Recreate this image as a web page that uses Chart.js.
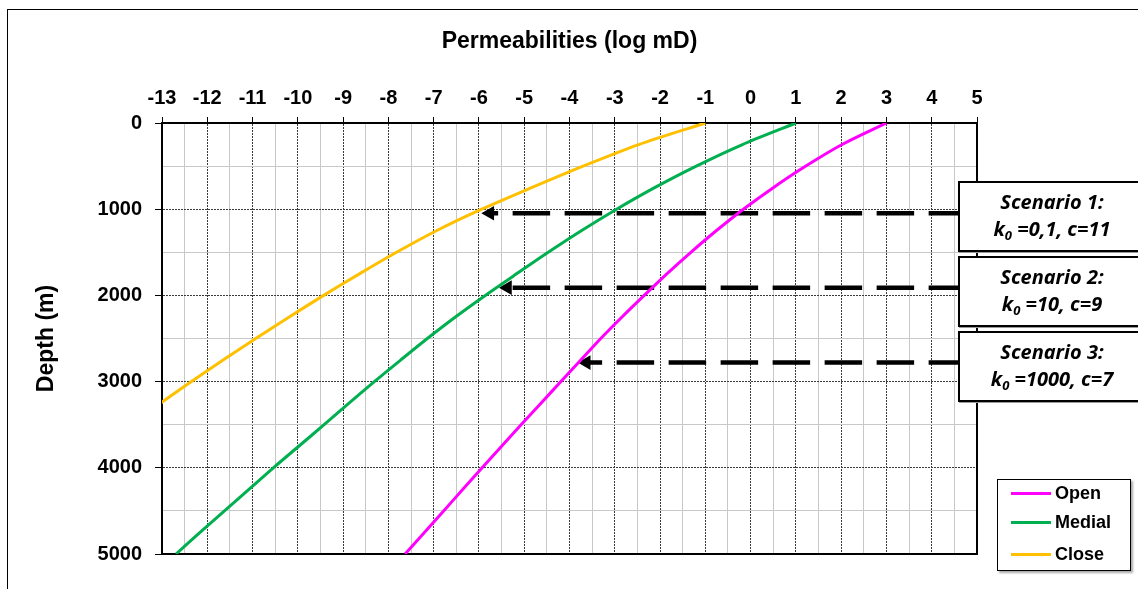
<!DOCTYPE html>
<html>
<head>
<meta charset="utf-8">
<script src="https://cdn.jsdelivr.net/npm/chart.js@4.4.0/dist/chart.umd.min.js"></script>
<style>
  body { margin: 0; background: #fff; overflow: hidden; }
  #wrap { position: relative; width: 1138px; height: 589px; }
  #frame { position: absolute; left: 7px; top: 9px; right: 0; bottom: 0; border-top: 1px solid #000; border-left: 1px solid #000; }
  canvas { position: absolute; left: 0; top: 0; }
  .scen {
    position: absolute; left: 958px; width: 188px; height: 71px; box-sizing: border-box;
    background: #fff; border: 2px solid #000; box-shadow: 1px 1px 0 #999;
    font-family: 'Noto Sans', sans-serif; font-style: italic; font-weight: bold; font-size: 20px;
    color: #000; text-align: center; line-height: 27px; padding-top: 5px;
  }
  .scen .sub { font-size: 13px; position: relative; top: 4px; }
  #legend {
    position: absolute; left: 997px; top: 479px; width: 134px; height: 92px; box-sizing: border-box;
    background: #fff; border: 1px solid #000; box-shadow: 2px 2px 2px #aaa;
    font: bold 18px 'Liberation Sans', Arial, sans-serif; color: #000;
  }
  #legend .item { position: absolute; left: 13px; height: 20px; display: flex; align-items: center; }
  #legend .swatch { width: 40px; height: 3px; margin-right: 4px; }
</style>
</head>
<body>
<div id="wrap">
  <div id="frame"></div>
  <canvas id="permChart" width="1138" height="589"></canvas>
  <div id="boxes"></div>
  <div id="legend"></div>
</div>
<script>
// profondeurs (m) et log-perméabilités
const depths = [0, 250, 500, 750, 1000, 1250, 1500, 1750, 2000, 2250, 2500,
                2750, 3000, 3250, 3500, 3750, 4000, 4250, 4500, 4750, 5000];
const openValues = [3.0, 2.02, 1.22, 0.50, -0.16, -0.76, -1.32, -1.85, -2.35, -2.84, -3.31,
                    -3.75, -4.19, -4.63, -5.07, -5.50, -5.93, -6.355, -6.78, -7.205, -7.63];
const medialValues = [1.0, -0.18, -1.20, -2.12, -2.96, -3.74, -4.47, -5.17, -5.86, -6.52, -7.14,
                      -7.73, -8.31, -8.87, -9.42, -9.98, -10.54, -11.08, -11.62, -12.16, -12.69];
const closeDepths = [0, 250, 500, 750, 1000, 1250, 1500, 1750, 2000, 2250, 2500, 2750, 3000, 3250];
const closeValues = [-1.0, -2.47, -3.70, -4.84, -5.94, -6.94, -7.82, -8.64, -9.43, -10.19, -10.93,
                     -11.65, -12.35, -13.03];

// flèches des scénarios
const arrowDepths = [1047, 1910, 2779];
const arrowTips = [-5.76, -5.37, -3.63];
const arrowTail = 4.76;

const scenarioNames = ['Scenario 1:', 'Scenario 2:', 'Scenario 3:'];
const scenarioK0 = ['0,1', '10', '1000'];
const scenarioC = ['11', '9', '7'];

const xMin = -13, xMax = 5;
const depthMax = 5000;

function pairs(xs, ys) {
    return xs.map((v, i) => ({ x: v, y: ys[i] }));
}

function isMajor(value, unit) {
    return Math.abs(value / unit - Math.round(value / unit)) < 1e-6;
}

Chart.defaults.font.family = "'Liberation Sans', Arial, sans-serif";
Chart.defaults.color = '#000';

// cadre de la zone de tracé
const plotFrame = {
    id: 'plotFrame',
    beforeDatasetsDraw(chart) {
        const { ctx, chartArea: a } = chart;
        ctx.save();
        ctx.strokeStyle = '#000';
        ctx.lineWidth = 2;
        ctx.strokeRect(a.left, a.top, a.right - a.left, a.bottom - a.top);
        ctx.restore();
    }
};

const curve = (label, color, xs, ys) => ({
    label: label,
    data: pairs(xs, ys),
    showLine: true,
    borderColor: color,
    backgroundColor: color,
    borderWidth: 3,
    pointRadius: 0,
    tension: 0.3
});

const arrows = arrowDepths.map((d, i) => ({
    label: 'arrow' + i,
    data: [{ x: arrowTail, y: d }, { x: arrowTips[i], y: d }],
    showLine: true,
    borderColor: '#000',
    backgroundColor: '#000',
    borderWidth: 4.5,
    borderDash: [37.5, 14.5],
    borderCapStyle: 'butt',
    pointStyle: 'triangle',
    rotation: 270,
    pointRadius: [0, 8.5],
    pointBorderWidth: 0,
    pointHoverRadius: 0
}));

const gridColor = unit => c => (c.tick && isMajor(c.tick.value, unit)) ? '#3a3a3a' : '#c8c8c8';
const tickColor = unit => c => (c.tick && isMajor(c.tick.value, unit)) ? '#000' : 'rgba(0,0,0,0)';
const gridDash = unit => c => (c.tick && isMajor(c.tick.value, unit)) ? [2, 1] : [];

const chart = new Chart(document.getElementById('permChart'), {
    type: 'scatter',
    data: {
        datasets: [
            curve('Open', '#FF00FF', openValues, depths),
            curve('Medial', '#00B050', medialValues, depths),
            curve('Close', '#FFC000', closeValues, closeDepths),
            ...arrows
        ]
    },
    options: {
        responsive: false,
        animation: false,
        events: [],
        layout: { padding: { top: 10, left: 29, right: 161, bottom: 35 } },
        plugins: {
            legend: { display: false },
            tooltip: { enabled: false },
            title: {
                display: true,
                fullSize: false,
                text: 'Permeabilities (log mD)',
                color: '#000',
                font: { size: 23, weight: 'bold' },
                padding: { top: 18, bottom: 10 }
            }
        },
        scales: {
            x: {
                type: 'linear',
                position: 'top',
                min: xMin,
                max: xMax,
                ticks: {
                    stepSize: 0.5,
                    autoSkip: false,
                    maxRotation: 0,
                    padding: 7,
                    font: { size: 20, weight: 'bold' },
                    callback: v => isMajor(v, 1) ? String(Math.round(v)) : ''
                },
                grid: {
                    color: gridColor(1),
                    lineWidth: 1,
                    tickLength: 6,
                    tickColor: tickColor(1),
                    tickBorderDash: []
                },
                border: { color: '#000', width: 2, dash: gridDash(1) },
                afterFit: s => { s.height = 57.4; }
            },
            y: {
                type: 'linear',
                reverse: true,
                min: 0,
                max: depthMax,
                ticks: {
                    stepSize: 500,
                    autoSkip: false,
                    padding: 13,
                    font: { size: 20, weight: 'bold' },
                    callback: v => isMajor(v, 1000) ? String(v) : ''
                },
                grid: {
                    color: gridColor(1000),
                    lineWidth: 1,
                    tickLength: 7,
                    tickColor: tickColor(1000),
                    tickBorderDash: []
                },
                border: { color: '#000', width: 2, dash: gridDash(1000) },
                title: {
                    display: true,
                    text: 'Depth (m)',
                    color: '#000',
                    font: { size: 23, weight: 'bold' }
                },
                afterFit: s => { s.width = 133; }
            }
        }
    },
    plugins: [plotFrame]
});

// encadrés des scénarios
const boxTops = [181, 256, 331];
document.getElementById('boxes').innerHTML = scenarioNames.map((name, i) =>
    `<div class="scen" style="top:${boxTops[i]}px">${name}<br>k<span class="sub">0</span> =${scenarioK0[i]}, c=${scenarioC[i]}</div>`
).join('');

// légende
const rowCenters = [14, 43.5, 75];
document.getElementById('legend').innerHTML = chart.data.datasets.slice(0, 3).map((ds, i) =>
    `<div class="item" style="top:${rowCenters[i] - 11}px"><span class="swatch" style="background:${ds.borderColor}"></span>${ds.label}</div>`
).join('');
</script>
</body>
</html>
